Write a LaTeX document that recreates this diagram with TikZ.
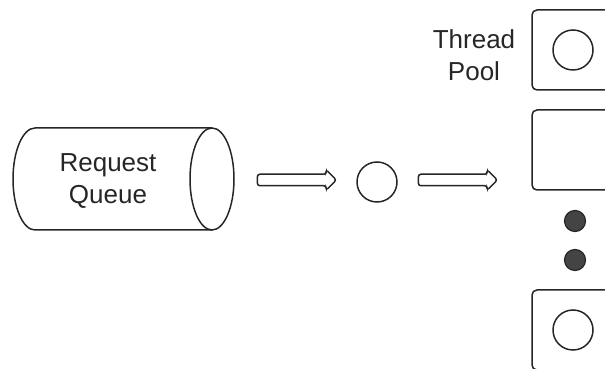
\documentclass[tikz,border=0pt]{standalone}
\usepackage{fontspec}
\setmainfont{Liberation Sans}
\usepackage{xcolor}
\usepackage{tikz}
\usetikzlibrary{arrows.meta, positioning, shapes.arrows}

\definecolor{ink}{HTML}{262626}
\definecolor{dotgray}{HTML}{444444}

\tikzset{
    lbl/.style={align=center, font=\fontsize{26}{32}\selectfont, text=ink},
    worker/.style={circle, draw=ink, line width=1.5pt, minimum size=40pt, inner sep=0pt},
    threadbox/.style={draw=ink, line width=1.5pt, rounded corners=5pt, minimum width=82pt, minimum height=80pt},
    blockarrow/.style={single arrow, draw=ink, line width=1.5pt, rounded corners=2.5pt,
        minimum height=79pt, inner sep=5pt, single arrow head extend=4.5pt, single arrow tip angle=90},
    dot/.style={circle, draw=ink, fill=dotgray, line width=1.2pt, minimum size=21pt, inner sep=0pt},
}

\begin{document}
\begin{tikzpicture}[x=1pt, y=1pt]
    \path[use as bounding box, clip] (0,0) rectangle (605,369);

    % request queue (cylinder on its side)
    \draw[ink, line width=1.5pt] (212,241) -- (35,241)
        arc[start angle=90, end angle=270, x radius=22, y radius=51] -- (212,139);
    \draw[ink, line width=1.5pt] (212,190) ellipse[x radius=22, y radius=51];
    \node[lbl] (queue) at (108,188) {Request\\Queue};

    % dispatcher
    \node[blockarrow] (arrin) at (294,189) {};
    \node[worker] (disp) at (377,187) {};
    \node[blockarrow] (arrout) at (455,189) {};

    % thread pool
    \node[lbl] (pool) at (474,314) {Thread\\Pool};
    \node[threadbox] (box1) at (573,319) {};
    \node[worker] (w1) at (box1.center) {};
    \node[threadbox] (box2) at (573,219) {};
    \node[dot] (d1) at (575,148) {};
    \node[dot] (d2) at (575,109) {};
    \node[threadbox] (box3) at (573,39) {};
    \node[worker] (w3) at (573,39) {};
\end{tikzpicture}
\end{document}
